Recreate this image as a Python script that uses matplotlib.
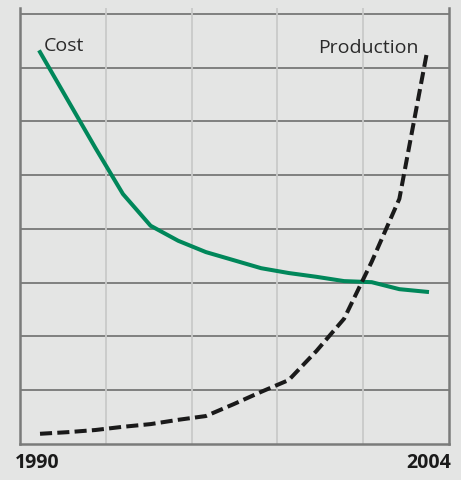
import matplotlib
matplotlib.use("Agg")
import matplotlib.pyplot as plt

years = list(range(1990, 2005))
cost = [7.29, 6.40, 5.51, 4.65, 4.06, 3.78, 3.57, 3.42, 3.27, 3.18, 3.11, 3.03, 3.01, 2.88, 2.83]
production = [0.19, 0.22, 0.26, 0.32, 0.37, 0.45, 0.52, 0.74, 0.97, 1.19, 1.73, 2.33, 3.39, 4.56, 7.29]
series_labels = ["Cost", "Production"]
year_labels = ["1990", "2004"]

bg = "#e4e5e4"
fig = plt.figure(figsize=(4.61, 4.81), dpi=100, facecolor=bg)
ax = fig.add_axes([20/461, 36/481, 429/461, 436/481])
ax.set_facecolor(bg)

x0, x1 = 1989.276, 2004.796
ax.set_xlim(x0, x1)
ax.set_ylim(0, 8.11)

# grid
for g in range(1, 9):
    ax.axhline(g, color="#7f807f", lw=1.4, zorder=1)
for f in [0.2, 0.4, 0.6, 0.8]:
    ax.axvline(x0 + f * (x1 - x0), color="#c9cac9", lw=1.3, zorder=1)

ax.plot(years, cost, color="#00875a", lw=2.9, solid_joinstyle="miter", zorder=3)
ax.plot(years, production, color="#1a1a1a", lw=2.9, linestyle=(0, (3.0, 1.3)), zorder=4)

for s in ["left", "right", "bottom"]:
    ax.spines[s].set_color("#7a7b7a")
    ax.spines[s].set_linewidth(1.8)
ax.spines["top"].set_visible(False)
ax.set_xticks([])
ax.set_yticks([])

font = "Open Sans"
ax.text((44 - 20)/429, (445 - 46)/436, series_labels[0], transform=ax.transAxes,
        ha="left", va="center", fontsize=14, family=font, color="#2a2a2a")
ax.text((419 - 20)/429, (445 - 48)/436, series_labels[1], transform=ax.transAxes,
        ha="right", va="center", fontsize=14, family=font, color="#2a2a2a")

ax.text((15 - 20)/429, (445 - 463)/436, year_labels[0], transform=ax.transAxes,
        ha="left", va="center", fontsize=14, family=font, fontweight="bold", color="#1a1a1a")
ax.text((451 - 20)/429, (445 - 463)/436, year_labels[1], transform=ax.transAxes,
        ha="right", va="center", fontsize=14, family=font, fontweight="bold", color="#1a1a1a")

fig.savefig("out.png", dpi=100, facecolor=bg)
